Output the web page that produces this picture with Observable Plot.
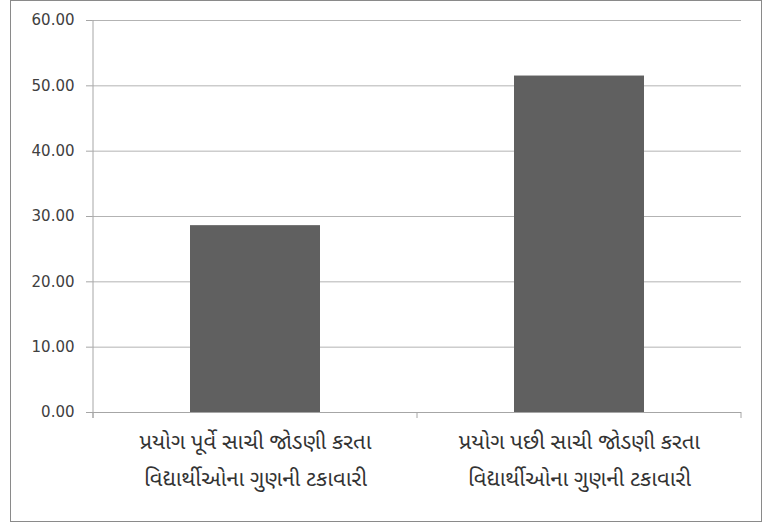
<!DOCTYPE html>
<html>
<head>
<meta charset="utf-8">
<script src="https://cdn.jsdelivr.net/npm/d3@7"></script>
<script src="https://cdn.jsdelivr.net/npm/@observablehq/plot@0.6"></script>
<style>
  html, body { margin: 0; padding: 0; background: #fff; }
  #wrap { position: relative; width: 784px; height: 524px; }
  #box { position: absolute; left: 10px; top: 0px; width: 750px; height: 520px; border: 1.5px solid #8a8a8a; pointer-events: none; }
  #chart { position: absolute; left: 0; top: 0; }
</style>
</head>
<body>
<div id="wrap"><div id="chart"></div><div id="box"></div></div>
<script>
const categories = [
  "પ્રયોગ પૂર્વે સાચી જોડણી કરતા\nવિદ્યાર્થીઓના ગુણની ટકાવારી",
  "પ્રયોગ પછી સાચી જોડણી કરતા\nવિદ્યાર્થીઓના ગુણની ટકાવારી"
];
const values = [28.6, 51.5];
const yTicks = [0, 10, 20, 30, 40, 50, 60];

const data = categories.map((c, i) => ({category: c, value: values[i]}));

// axis lines and band-boundary tick marks, derived from the scales
function axisLines(index, scales, values, dimensions) {
  const x = scales.x, y = scales.y;
  const bw = typeof x.bandwidth === "function" ? x.bandwidth() : x.bandwidth;
  const step = x(categories[1]) - x(categories[0]);
  const outer = (step - bw) / 2;
  const y0 = y(0);
  const left = x(categories[0]) - outer;
  const g = d3.create("svg:g").attr("stroke", "#a6a6a6").attr("stroke-width", 1);
  g.append("line").attr("x1", left).attr("x2", left).attr("y1", y(60)).attr("y2", y0 + 6);
  const xs = [left, ...categories.map(c => x(c) + bw + outer)];
  for (const px of xs) {
    g.append("line").attr("x1", px).attr("x2", px).attr("y1", y0).attr("y2", y0 + 6);
  }
  return g.node();
}

const chart = Plot.plot({
  width: 784,
  height: 524,
  marginLeft: 92,
  marginRight: 43,
  marginTop: 20,
  marginBottom: 112,
  style: {fontFamily: "DejaVu Sans, sans-serif", color: "#404040", background: "transparent"},
  x: {domain: categories, paddingInner: 0.6, paddingOuter: 0.3, label: null},
  y: {domain: [0, 60], label: null},
  marks: [
    Plot.gridY(yTicks, {stroke: "#b3b3b3", strokeOpacity: 1, strokeWidth: 1}),
    Plot.barY(data, {x: "category", y: "value", fill: "#606060"}),
    Plot.ruleY([0], {stroke: "#a6a6a6"}),
    Plot.axisY({ticks: yTicks, tickFormat: d3.format(".2f"), tickSize: 6, tickPadding: 12,
      stroke: "#a6a6a6", fill: "#404040", fontSize: 15, label: null}),
    Plot.axisX({tickSize: 0, tickPadding: 11, fontSize: 22, lineHeight: 1.65, fill: "#333",
      label: null, fontFamily: "'Noto Sans Gujarati', 'Lohit Gujarati', Shruti, sans-serif"}),
    axisLines
  ]
});
document.getElementById("chart").appendChild(chart);
</script>
</body>
</html>
